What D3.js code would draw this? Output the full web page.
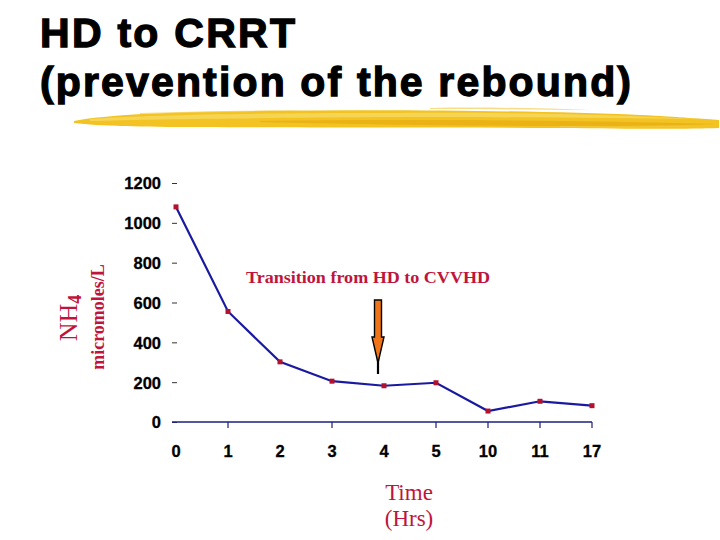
<!DOCTYPE html>
<html>
<head>
<meta charset="utf-8">
<script src="https://cdn.jsdelivr.net/npm/d3@7"></script>
<style>
  html, body { margin: 0; padding: 0; background: #ffffff; }
  svg { display: block; }
</style>
</head>
<body>
<script>
// ---- Data ----
const categories = ["0", "1", "2", "3", "4", "5", "10", "11", "17"];
const nh4Values = [1080, 555, 302, 205, 182, 197, 55, 104, 82];
const yTicks = [0, 200, 400, 600, 800, 1000, 1200];
const xTickMarks = ["1", "3", "5", "10", "11", "17"];
const titleLines = ["HD to CRRT", "(prevention of the rebound)"];
const annotationText = "Transition from HD to CVVHD";
const annotationAt = "4";

const W = 720, H = 540;
const svg = d3.select("body").append("svg").attr("width", W).attr("height", H);

// ---- Title ----
const title = svg.append("g").attr("font-family", "'Liberation Sans', Arial, sans-serif")
  .attr("font-weight", "bold").attr("font-size", 41).attr("fill", "#000")
  .attr("stroke", "#000").attr("stroke-width", 1.3);
title.append("text").attr("x", 40).attr("y", 47).attr("textLength", 255)
  .attr("lengthAdjust", "spacing").text(titleLines[0]);
title.append("text").attr("x", 40).attr("y", 96).attr("textLength", 591)
  .attr("lengthAdjust", "spacing").text(titleLines[1]);

// ---- Yellow brush stroke ----
const brush = svg.append("g");
brush.append("path")
  .attr("d", "M74,121 C110,114 180,112 260,111 C400,109 540,111 640,115 C680,117 705,119 719,120 L719,128 C690,129 640,129 560,128 C440,127 300,128 200,127 C140,127 100,126 74,123 Z")
  .attr("fill", "#f2c322");
brush.append("path")
  .attr("d", "M90,119 C150,115 260,113 380,113 C500,112 600,114 700,119 C600,118 500,117 380,117 C260,118 150,119 90,121 Z")
  .attr("fill", "#f8da62").attr("opacity", 0.8);
brush.append("path")
  .attr("d", "M260,121 C400,119 560,120 716,124 C640,127 520,126 420,125 C360,124 300,123 260,122 Z")
  .attr("fill", "#e4a70c").attr("opacity", 0.6);
brush.append("path")
  .attr("d", "M140,113 C200,111 260,110 320,110 C280,111 220,112 140,114 Z M430,108 C480,107 540,108 590,110 C540,110 480,109 430,109 Z M560,126 C600,127 650,127 700,126 C650,128 600,128 560,127 Z")
  .attr("fill", "#f4cf55").attr("opacity", 0.7);

// ---- Scales ----
const x = d3.scalePoint().domain(categories).range([176, 592]);
const y = d3.scaleLinear().domain([0, 1200]).range([422, 183]);

const axisFont = "'Liberation Sans', Arial, sans-serif";

// ---- Y axis (tick dashes + labels, no line) ----
const yAxis = d3.axisLeft(y).tickValues(yTicks).tickSize(5).tickPadding(11).tickFormat(d3.format("d"));
const yg = svg.append("g").attr("transform", "translate(177,0)").call(yAxis);
yg.select(".domain").remove();
yg.selectAll(".tick line").attr("stroke", "#333").attr("stroke-width", 1);
yg.selectAll(".tick text").attr("font-family", axisFont).attr("font-weight", "bold")
  .attr("font-size", 16.5).attr("fill", "#000").attr("dy", "0.36em")
  .attr("stroke", "#000").attr("stroke-width", 0.3);

// ---- X axis ----
svg.append("line").attr("x1", 172).attr("x2", x("17")).attr("y1", y(0)).attr("y2", y(0))
  .attr("stroke", "#1c1c80").attr("stroke-width", 1.3);
svg.selectAll(".xtick").data(xTickMarks).enter().append("line")
  .attr("x1", d => x(d)).attr("x2", d => x(d)).attr("y1", y(0)).attr("y2", y(0) + 6)
  .attr("stroke", "#1c1c80").attr("stroke-width", 1.2);
svg.selectAll(".xlabel").data(categories).enter().append("text")
  .attr("x", d => x(d)).attr("y", 457).attr("text-anchor", "middle")
  .attr("font-family", axisFont).attr("font-weight", "bold").attr("font-size", 16.5)
  .attr("fill", "#000").attr("stroke", "#000").attr("stroke-width", 0.3).text(d => d);

// ---- Line + markers ----
const pts = categories.map((c, i) => ({ c, v: nh4Values[i] }));
svg.append("path").datum(pts)
  .attr("d", d3.line().x(d => x(d.c)).y(d => y(d.v)))
  .attr("fill", "none").attr("stroke", "#1a1aa0").attr("stroke-width", 2.2);
svg.selectAll(".pt").data(pts).enter().append("rect")
  .attr("x", d => x(d.c) - 2.5).attr("y", d => y(d.v) - 2.5)
  .attr("width", 5).attr("height", 5).attr("fill", "#b3122e");

// ---- Axis titles ----
const red = "#c0143c";
const yt = svg.append("text").attr("transform", "translate(77,318) rotate(-90)")
  .attr("text-anchor", "middle").attr("font-family", "'Liberation Serif', 'Times New Roman', serif")
  .attr("font-size", 26).attr("fill", red);
yt.append("tspan").text("NH");
yt.append("tspan").attr("font-size", 18).attr("font-weight", "bold").attr("dy", 4).text("4");

svg.append("text").attr("transform", "translate(104,317) rotate(-90)")
  .attr("text-anchor", "middle").attr("font-family", "'Liberation Serif', 'Times New Roman', serif")
  .attr("font-weight", "bold").attr("font-size", 18).attr("fill", red).text("micromoles/L");

svg.append("text").attr("x", 409).attr("y", 500).attr("text-anchor", "middle")
  .attr("font-family", "'Liberation Serif', 'Times New Roman', serif").attr("font-size", 23)
  .attr("fill", red).text("Time");
svg.append("text").attr("x", 409).attr("y", 526).attr("text-anchor", "middle")
  .attr("font-family", "'Liberation Serif', 'Times New Roman', serif").attr("font-size", 23)
  .attr("fill", red).text("(Hrs)");

// ---- Annotation ----
svg.append("text").attr("x", 246).attr("y", 283).attr("textLength", 244)
  .attr("lengthAdjust", "spacingAndGlyphs")
  .attr("font-family", "'Liberation Serif', 'Times New Roman', serif").attr("font-weight", "bold")
  .attr("font-size", 17).attr("fill", red).text(annotationText);

const ax = x(annotationAt) - 6;
const arrow = svg.append("g");
arrow.append("line").attr("x1", ax).attr("x2", ax).attr("y1", 352).attr("y2", 374)
  .attr("stroke", "#000").attr("stroke-width", 2.2);
arrow.append("path")
  .attr("d", `M${ax - 3.5},300 L${ax + 3.5},300 L${ax + 3.5},337 L${ax + 6},337 L${ax},363 L${ax - 6},337 L${ax - 3.5},337 Z`)
  .attr("fill", "#f07418").attr("stroke", "#000").attr("stroke-width", 1.4).attr("stroke-linejoin", "miter");
</script>
</body>
</html>
